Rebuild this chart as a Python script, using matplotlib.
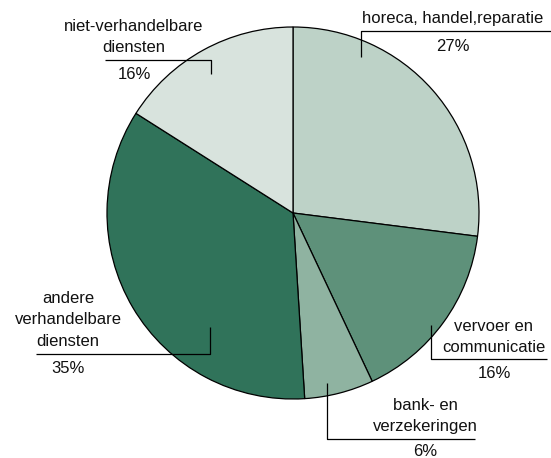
import matplotlib.pyplot as plt

plt.rcParams['font.family'] = ['Liberation Sans', 'DejaVu Sans']

# sectors, clockwise from 12 o'clock
labels = [['horeca, handel,reparatie'], ['vervoer en', 'communicatie'], ['bank- en', 'verzekeringen'],
          ['andere', 'verhandelbare', 'diensten'], ['niet-verhandelbare', 'diensten']]
shares = [27, 16, 6, 35, 16]
colors = ['#bdd2c7', '#5e917a', '#8fb3a1', '#30735a', '#d8e3dd']

W, H = 551, 458
fig = plt.figure(figsize=(W / 100, H / 100), dpi=100)
ax = fig.add_axes([0, 0, 1, 1])

ax.pie(shares, colors=colors, startangle=90, counterclock=False,
       center=(293, H - 213), radius=186,
       wedgeprops=dict(edgecolor='black', linewidth=0.9))

ax.set_xlim(0, W)
ax.set_ylim(0, H)
ax.set_aspect('equal')
ax.axis('off')

def py(y):
    return H - y

# leader brackets (pixel coords from top-left): polyline, text center x,
# baseline of first label line, baseline of percentage
leaders = [
    dict(pts=[(361, 57), (361, 31), (551, 31)], tx=453, ty=23, py=51),
    dict(pts=[(431, 325), (431, 359), (547, 359)], tx=494, ty=331, py=378),
    dict(pts=[(327, 383), (327, 439), (475, 439)], tx=425, ty=410, py=456),
    dict(pts=[(210, 327), (210, 354), (36, 354)], tx=68, ty=303, py=373),
    dict(pts=[(211, 74), (211, 60), (105, 60)], tx=134, ty=31, py=79),
]
step = 21.5

for lines, val, ld in zip(labels, shares, leaders):
    xs = [p[0] for p in ld['pts']]
    ys = [py(p[1]) for p in ld['pts']]
    ax.plot(xs, ys, color='black', linewidth=0.9, solid_capstyle='butt')
    for i, s in enumerate(lines):
        ax.text(ld['tx'], py(ld['ty'] + i * step), s, ha='center', va='baseline',
                fontsize=12, color='#111111')
    ax.text(ld['tx'], py(ld['py']), f'{val}%', ha='center', va='baseline',
            fontsize=12, color='#111111')

fig.savefig('out.png', dpi=100, facecolor='white')
